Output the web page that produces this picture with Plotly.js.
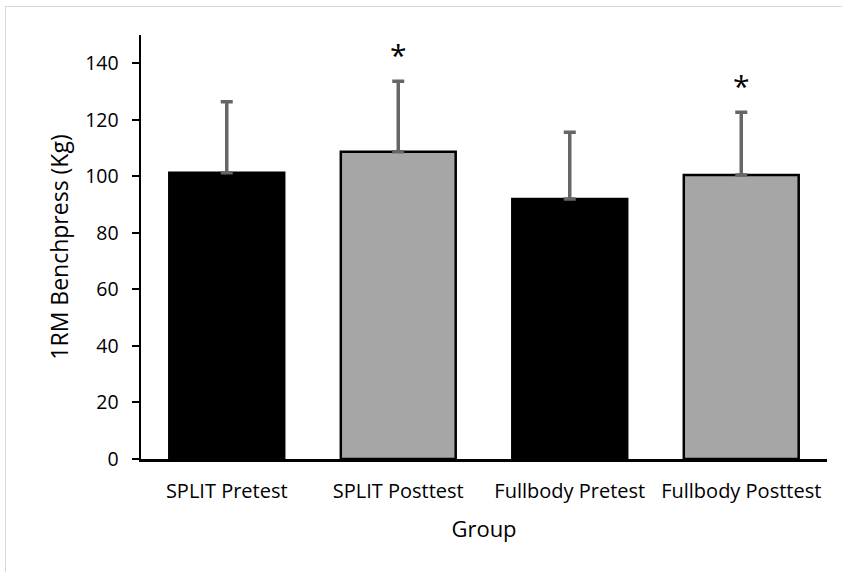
<!DOCTYPE html>
<html>
<head>
<meta charset="utf-8">
<script src="https://cdn.plot.ly/plotly-3.0.1.min.js"></script>
<style>
  html, body { margin: 0; padding: 0; background: #fff; }
  #wrap { position: relative; width: 842px; height: 572px; }
  #chart { width: 842px; height: 572px; }
  #frame { position: absolute; left: 5px; top: 6px; right: -2px; bottom: -2px;
           border-top: 1px solid #d9d9d9; border-left: 1px solid #d9d9d9; pointer-events: none; }
</style>
</head>
<body>
<div id="wrap">
  <div id="chart"></div>
  <div id="frame"></div>
</div>
<script>
const categories = ["SPLIT Pretest", "SPLIT Posttest", "Fullbody Pretest", "Fullbody Posttest"];
const means = [101.3, 108.7, 92.0, 100.5];
const sds = [25.1, 24.9, 23.6, 22.2];
const barColors = ["#000000", "#a6a6a6", "#000000", "#a6a6a6"];
const significant = [false, true, false, true];
const yTicks = [0, 20, 40, 60, 80, 100, 120, 140];

const font = "'Open Sans', sans-serif";

const trace = {
  type: "bar",
  x: categories,
  y: means,
  marker: { color: barColors, line: { color: "#000000", width: 2.5 } },
  error_y: {
    type: "data",
    symmetric: false,
    array: sds,
    arrayminus: sds.map(() => 0),
    color: "#666666",
    thickness: 3.5,
    width: 6
  },
  hoverinfo: "none"
};

const annotations = [];
categories.forEach((c, i) => {
  if (significant[i]) {
    annotations.push({
      x: c, y: means[i] + sds[i], xref: "x", yref: "y",
      text: "*", showarrow: false, yshift: 27,
      font: { family: font, size: 30, color: "#000" }
    });
  }
});

const layout = {
  width: 842, height: 572,
  margin: { l: 141, r: 15, t: 35, b: 113 },
  paper_bgcolor: "#ffffff", plot_bgcolor: "#ffffff",
  showlegend: false,
  bargap: 0.33,
  font: { family: font, color: "#000" },
  xaxis: {
    type: "category",
    showline: true, linecolor: "#000", linewidth: 2.5,
    ticks: "outside", ticklen: 12, tickcolor: "rgba(0,0,0,0)",
    showgrid: false, zeroline: false,
    tickfont: { family: font, size: 20, color: "#000" },
    title: { text: "Group", font: { family: font, size: 22, color: "#000" }, standoff: 19 }
  },
  yaxis: {
    range: [0, 150],
    tickvals: yTicks, ticktext: yTicks.map(String),
    showline: true, linecolor: "#000", linewidth: 2.5,
    ticks: "outside", ticklen: 7, tickwidth: 2, tickcolor: "#000",
    ticklabelstandoff: 9,
    showgrid: false, zeroline: false,
    tickfont: { family: font, size: 19.5, color: "#000" },
    title: { text: "1RM Benchpress (Kg)", font: { family: font, size: 23, color: "#000" }, standoff: 10 }
  },
  annotations: annotations
};

Plotly.newPlot("chart", [trace], layout, { displayModeBar: false, staticPlot: true });
</script>
</body>
</html>
